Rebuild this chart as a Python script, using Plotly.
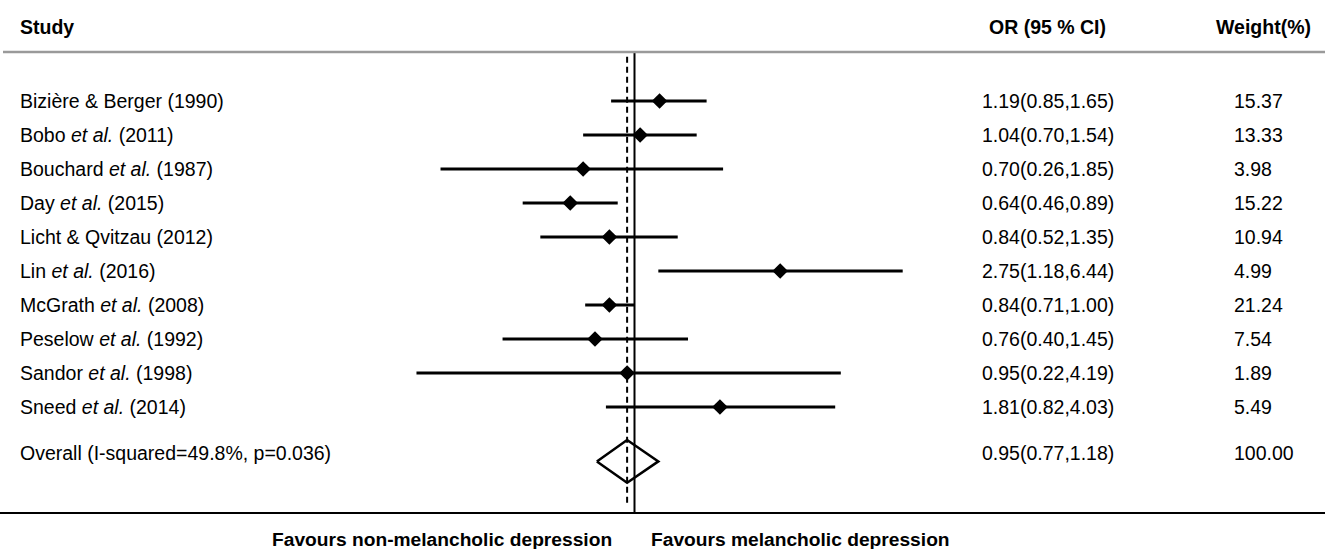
import math
import plotly.graph_objects as go

# ---------------- data ----------------
studies = [
    "Bizière & Berger (1990)",
    "Bobo <i>et al.</i> (2011)",
    "Bouchard <i>et al.</i> (1987)",
    "Day <i>et al.</i> (2015)",
    "Licht & Qvitzau (2012)",
    "Lin <i>et al.</i> (2016)",
    "McGrath <i>et al.</i> (2008)",
    "Peselow <i>et al.</i> (1992)",
    "Sandor <i>et al.</i> (1998)",
    "Sneed <i>et al.</i> (2014)",
]
or_vals = [1.19, 1.04, 0.70, 0.64, 0.84, 2.75, 0.84, 0.76, 0.95, 1.81]
ci_low = [0.85, 0.70, 0.26, 0.46, 0.52, 1.18, 0.71, 0.40, 0.22, 0.82]
ci_high = [1.65, 1.54, 1.85, 0.89, 1.35, 6.44, 1.00, 1.45, 4.19, 4.03]
weights = [15.37, 13.33, 3.98, 15.22, 10.94, 4.99, 21.24, 7.54, 1.89, 5.49]

overall_label = "Overall (I-squared=49.8%, p=0.036)"
overall_or = 0.95
overall_low = 0.77
overall_high = 1.18
overall_weight = 100.00

header_labels = ["Study", "OR (95 % CI)", "Weight(%)"]
favour_left = "Favours non-melancholic depression"
favour_right = "Favours melancholic depression"
null_value = 1.0

# ---------------- layout helpers ----------------
W, H = 1325, 549
FONT = "Liberation Sans, Arial, sans-serif"
FS = 19.5

rows = list(range(len(studies)))
overall_row = 10.35
diamond_row = overall_row + 0.25
diamond_half = 0.63
header_row = -2.18
header_line_row = -1.44
bottom_line_row = 12.12
favour_row = 12.91

# x axis (log) mapping: pixel = 634.5 + 144 * ln(OR)
x0px, scale = 634.5, 144.0
xr = [(-x0px / scale) / math.log(10), ((W - x0px) / scale) / math.log(10)]
yr = [(H - 101) / 34.0, -101 / 34.0]

fig = go.Figure()

# CI lines
cx, cy = [], []
for lo, hi, r in zip(ci_low, ci_high, rows):
    cx += [lo, hi, None]
    cy += [r, r, None]
fig.add_trace(go.Scatter(x=cx, y=cy, mode="lines",
                         line=dict(color="black", width=3), hoverinfo="skip"))

# null line (solid)
fig.add_trace(go.Scatter(x=[null_value, null_value], y=[header_line_row + 0.03, bottom_line_row],
                         mode="lines", line=dict(color="black", width=2), hoverinfo="skip"))
# pooled estimate line (dashed)
fig.add_trace(go.Scatter(x=[overall_or, overall_or], y=[header_line_row + 0.14, 11.9],
                         mode="lines", line=dict(color="black", width=2, dash="6px,4px"),
                         hoverinfo="skip"))

# point estimates
fig.add_trace(go.Scatter(x=or_vals, y=rows, mode="markers",
                         marker=dict(symbol="diamond", size=12, color="black"),
                         hoverinfo="skip"))

# overall diamond (outline only)
fig.add_trace(go.Scatter(
    x=[overall_low, overall_or, overall_high, overall_or, overall_low],
    y=[diamond_row, diamond_row - diamond_half, diamond_row, diamond_row + diamond_half, diamond_row],
    mode="lines", line=dict(color="black", width=2.5), hoverinfo="skip"))

ann = []


def txt(text, xpx, y, anchor="left", bold=False, size=FS):
    ann.append(dict(text=("<b>%s</b>" % text) if bold else text,
                    x=xpx / W, xref="paper", y=y, yref="y",
                    xanchor=anchor, yanchor="middle", showarrow=False,
                    font=dict(family=FONT, size=size, color="black")))


# headers
txt(header_labels[0], 18, header_row, bold=True)
txt(header_labels[1], 987, header_row, bold=True)
txt(header_labels[2], 1214, header_row, bold=True)

# study rows
for s, o, lo, hi, w, r in zip(studies, or_vals, ci_low, ci_high, weights, rows):
    txt(s, 18, r)
    txt("%.2f(%.2f,%.2f)" % (o, lo, hi), 980, r)
    txt("%.2f" % w, 1232, r)

# overall row
txt(overall_label, 18, overall_row)
txt("%.2f(%.2f,%.2f)" % (overall_or, overall_low, overall_high), 980, overall_row)
txt("%.2f" % overall_weight, 1232, overall_row)

# favours labels
txt(favour_left, 614, favour_row, anchor="right", bold=True, size=19.2)
txt(favour_right, 649, favour_row, bold=True, size=19.2)

shapes = [
    dict(type="line", xref="paper", yref="y", x0=3 / W, x1=1, y0=header_line_row, y1=header_line_row,
         line=dict(color="#9a9a9a", width=2.5)),
    dict(type="line", xref="paper", yref="y", x0=0, x1=1, y0=bottom_line_row, y1=bottom_line_row,
         line=dict(color="black", width=2)),
]

fig.update_layout(
    width=W, height=H,
    margin=dict(l=0, r=0, t=0, b=0),
    paper_bgcolor="white", plot_bgcolor="white",
    showlegend=False,
    xaxis=dict(type="log", range=xr, visible=False, fixedrange=True),
    yaxis=dict(range=yr, visible=False, fixedrange=True),
    annotations=ann, shapes=shapes,
)

fig.write_html("out.html", config={"displayModeBar": False},
               post_script="document.body.style.margin='0';")
